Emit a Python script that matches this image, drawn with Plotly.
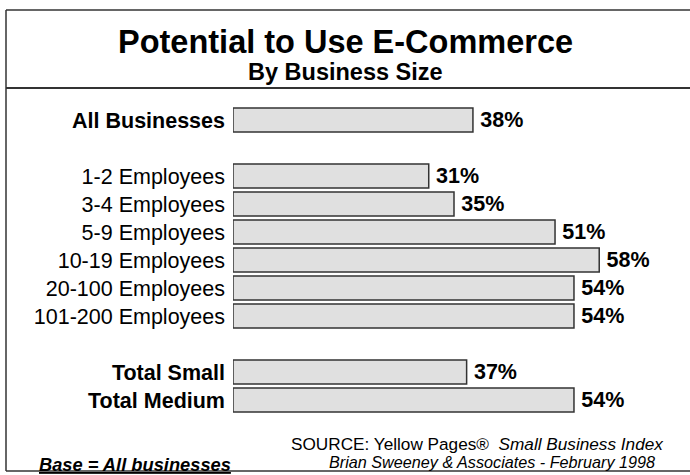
import plotly.graph_objects as go

# Share of businesses with potential to use e-commerce, by business size
overall_label = ["All Businesses"]
overall_values = [38]

size_labels = ["1-2 Employees", "3-4 Employees", "5-9 Employees",
               "10-19 Employees", "20-100 Employees", "101-200 Employees"]
size_values = [31, 35, 51, 58, 54, 54]

total_labels = ["Total Small", "Total Medium"]
total_values = [37, 54]

FONT = "Arial, 'Liberation Sans', sans-serif"

# Build category axis with blank spacer rows between groups
cats, vals = [], []
groups = [
    ([f"<b>{c}</b>" for c in overall_label], overall_values),
    (size_labels, size_values),
    ([f"<b>{c}</b>" for c in total_labels], total_values),
]
for gi, (labels, values) in enumerate(groups):
    if gi > 0:
        cats.append(" " * gi)
        vals.append(None)
    cats.extend(labels)
    vals.extend(values)

W, H = 690, 475
L, R, T, B = 233, 15, 106, 61
PW, PH = W - L - R, H - T - B


def px(x):
    return (x - L) / PW


def py(y):
    return (H - B - y) / PH


fig = go.Figure(go.Bar(
    x=vals, y=cats, orientation="h",
    marker=dict(color="#e0e0e0", line=dict(color="#333333", width=1.5)),
    # thin space keeps the value label slightly off the bar end
    text=[None if v is None else f"<b>\u2009{v}%</b>" for v in vals],
    textposition="outside",
    textfont=dict(family=FONT, size=21.5, color="#000000"),
    cliponaxis=False,
    hoverinfo="skip",
))

fig.update_layout(
    width=W, height=H,
    margin=dict(l=L, r=R, t=T, b=B),
    paper_bgcolor="white", plot_bgcolor="white",
    bargap=0.143,
    showlegend=False,
    font=dict(family=FONT, color="#000000"),
    xaxis=dict(range=[0, 70], visible=False, fixedrange=True),
    yaxis=dict(categoryorder="array", categoryarray=cats, autorange="reversed",
               showgrid=False, zeroline=False, showline=False, ticks="",
               tickfont=dict(family=FONT, size=21.5, color="#000000"),
               ticklabelstandoff=7),
)

frame = dict(type="line", xref="paper", yref="paper")
shapes = [
    # left, top and bottom edges of the frame
    dict(frame, x0=px(6), x1=px(6), y0=py(471), y1=py(10),
         line=dict(color="#333333", width=1.5)),
    dict(frame, x0=px(6), x1=px(700), y0=py(10), y1=py(10),
         line=dict(color="#333333", width=1.5)),
    dict(frame, x0=px(6), x1=px(700), y0=py(471), y1=py(471),
         line=dict(color="#333333", width=1.5)),
    # rule under the heading
    dict(frame, x0=px(6), x1=px(700), y0=py(88), y1=py(88),
         line=dict(color="#333333", width=2)),
]
fig.update_layout(shapes=shapes)

annotations = [
    dict(text="<b>Potential to Use E-Commerce</b>", x=px(345), y=py(42),
         font=dict(size=32.5)),
    dict(text="<b>By Business Size</b>", x=px(345), y=py(72.5),
         font=dict(size=23.5)),
    dict(text="SOURCE: Yellow Pages®  <i>Small Business Index</i>",
         x=px(289), y=py(444), xanchor="left", font=dict(size=17.2)),
    dict(text="<i>Brian Sweeney &amp; Associates - February 1998</i>",
         x=px(327), y=py(462), xanchor="left", font=dict(size=16.2)),
    dict(text="<b><i><u>Base = All businesses</u></i></b>",
         x=px(37), y=py(464), xanchor="left", font=dict(size=18.3)),
]
for a in annotations:
    a.setdefault("xanchor", "center")
    a.update(xref="paper", yref="paper", yanchor="middle", showarrow=False)
    a["font"] = dict(family=FONT, color="#000000", **a["font"])
fig.update_layout(annotations=annotations)

fig.write_html("out.html")
